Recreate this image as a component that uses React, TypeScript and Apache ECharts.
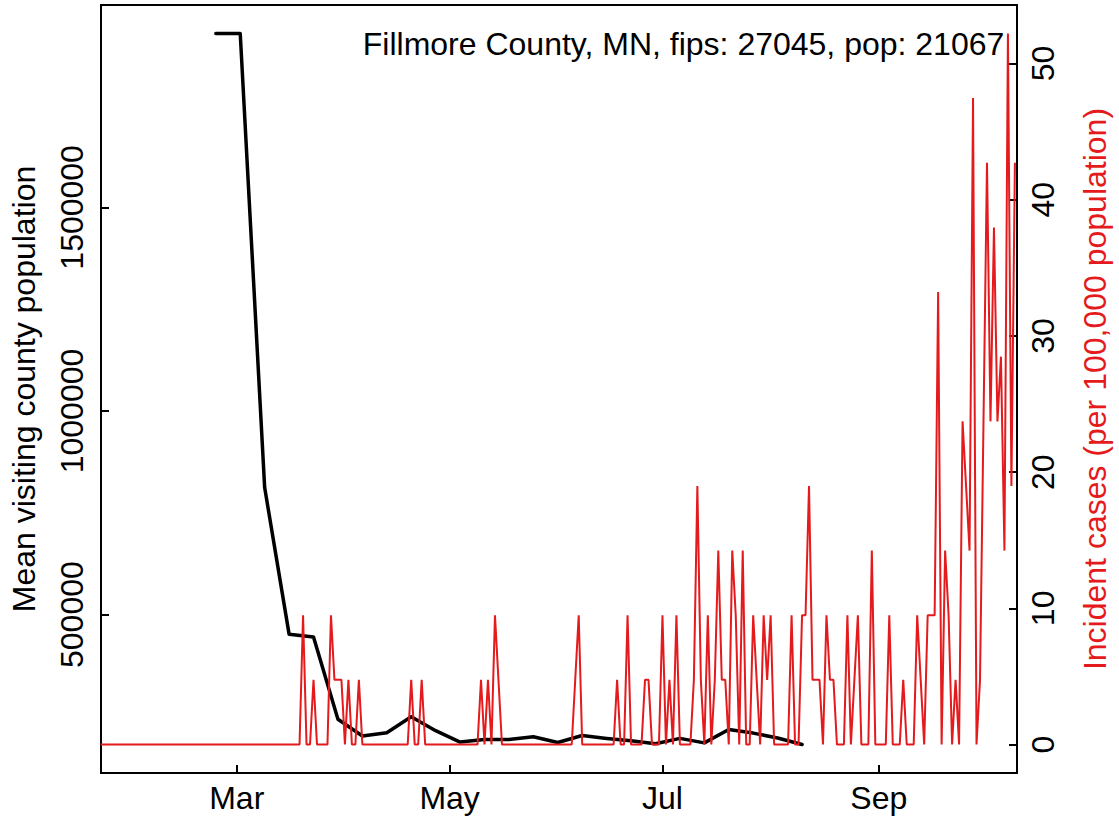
import React, { useEffect, useRef } from 'react';
import * as echarts from 'echarts';

const TITLE = 'Fillmore County, MN, fips: 27045, pop: 21067';
const LEFT_AXIS_NAME = 'Mean visiting county population';
const RIGHT_AXIS_NAME = 'Incident cases (per 100,000 population)';

// x positions are day-of-year in 2020 (0 = Jan 1)
const X_TICK_DAYS = [60, 121, 182, 244];
const X_TICK_LABELS = ['Mar', 'May', 'Jul', 'Sep'];
const LEFT_TICKS = [500000, 1000000, 1500000];
const RIGHT_TICKS = [0, 10, 20, 30, 40, 50];

// weekly mean visiting county population
const MOBILITY_DAYS = [54, 61, 68, 75, 82, 89, 96, 103, 110, 117, 124, 131, 138, 145, 152, 159, 166, 173, 180, 187, 194, 201, 208, 215, 222];
const MOBILITY = [
  1927000, 1927000, 812000, 452000, 445000, 243000, 202000, 210000, 249000, 215000,
  187000, 193000, 193000, 200000, 186000, 203000, 196000, 190000, 183000, 196000,
  185000, 218000, 209000, 197000, 181000,
];

// daily incident cases per 100,000, starting Jan 22, 2020 (day 21)
const INCIDENCE_START_DAY = 21;
const INC_JAN = [0, 0, 0, 0, 0, 0, 0, 0, 0, 0];
const INC_FEB = [0, 0, 0, 0, 0, 0, 0, 0, 0, 0, 0, 0, 0, 0, 0, 0, 0, 0, 0, 0, 0, 0, 0, 0, 0, 0, 0, 0, 0];
const INC_MAR = [0, 0, 0, 0, 0, 0, 0, 0, 0, 0, 0, 0, 0, 0, 0, 0, 0, 0, 0,
  9.49, 0, 0, 4.75, 0, 0, 0, 0, 9.49, 4.75, 4.75, 4.75];
const INC_APR = [0, 4.75, 0, 0, 4.75, 0, 0, 0, 0, 0, 0, 0, 0, 0, 0, 0, 0, 0, 0,
  4.75, 0, 0, 4.75, 0, 0, 0, 0, 0, 0, 0];
const INC_MAY = [0, 0, 0, 0, 0, 0, 0, 0, 0, 4.75, 0, 4.75, 0, 9.49, 4.75,
  0, 0, 0, 0, 0, 0, 0, 0, 0, 0, 0, 0, 0, 0, 0, 0];
const INC_JUN = [0, 0, 0, 0, 0, 4.75, 9.49, 0, 0, 0, 0, 0, 0, 0, 0, 0, 0,
  4.75, 0, 0, 9.49, 0, 0, 0, 0, 4.75, 4.75, 0, 0, 0];
const INC_JUL = [9.49, 0, 4.75, 0, 9.49, 0, 0, 0, 0, 4.75, 18.99, 4.75, 0, 9.49, 0,
  4.75, 14.24, 4.75, 4.75, 0, 14.24, 9.49, 0, 14.24, 0, 0, 9.49, 4.75, 0, 9.49, 4.75];
const INC_AUG = [9.49, 0, 0, 0, 0, 0, 9.49, 0, 0, 9.49, 9.49, 18.99, 4.75, 4.75, 4.75,
  0, 9.49, 4.75, 4.75, 0, 0, 0, 9.49, 0, 4.75, 9.49, 0, 0, 0, 14.24, 0];
const INC_SEP = [0, 0, 0, 9.49, 0, 0, 0, 4.75, 0, 0, 0, 9.49, 4.75, 0, 9.49,
  9.49, 9.49, 33.23, 0, 14.24, 9.49, 0, 4.75, 0, 23.73, 18.99, 14.24, 47.47, 0, 4.75];
const INC_OCT = [23.73, 42.72, 23.73, 37.97, 23.73, 28.48, 14.24, 52.21, 18.99, 42.72];

const INCIDENCE = [
  ...INC_JAN, ...INC_FEB, ...INC_MAR, ...INC_APR, ...INC_MAY,
  ...INC_JUN, ...INC_JUL, ...INC_AUG, ...INC_SEP, ...INC_OCT,
];

const FONT = 'Liberation Sans';
const FS = 32;
const RED = '#E41A1C';

export default function App() {
  const ref = useRef<HTMLDivElement>(null);

  useEffect(() => {
    if (!ref.current) return;
    const chart = echarts.init(ref.current, null, { renderer: 'svg' });
    const axisLine = { show: true, onZero: false, lineStyle: { color: '#000', width: 2 } };
    const option: any = {
      animation: false,
      backgroundColor: '#fff',
      textStyle: { fontFamily: FONT },
      grid: {
        left: 99, right: 99, top: 5, bottom: 49,
        show: true, borderColor: '#000', borderWidth: 2, backgroundColor: 'transparent',
      },
      xAxis: {
        type: 'value',
        min: 21.1,
        max: 283.6,
        axisLine,
        axisTick: { show: true, inside: true, length: 8, customValues: X_TICK_DAYS, lineStyle: { color: '#000', width: 2 } },
        axisLabel: {
          customValues: X_TICK_DAYS,
          formatter: (v: number) => {
            const i = X_TICK_DAYS.indexOf(v);
            return i >= 0 ? X_TICK_LABELS[i] : '';
          },
          fontSize: FS, fontFamily: FONT, color: '#000', margin: 9,
        },
        splitLine: { show: false },
      },
      yAxis: [
        {
          type: 'value',
          position: 'left',
          min: 111000,
          max: 1997000,
          name: LEFT_AXIS_NAME,
          nameLocation: 'middle',
          nameGap: 61,
          nameTextStyle: { fontSize: FS, fontFamily: FONT, color: '#000' },
          axisLine,
          axisTick: { show: true, inside: true, length: 8, customValues: LEFT_TICKS, lineStyle: { color: '#000', width: 2 } },
          axisLabel: {
            customValues: LEFT_TICKS, rotate: 90, margin: 13,
            formatter: (v: number) => String(v),
            fontSize: FS, fontFamily: FONT, color: '#000',
          },
          splitLine: { show: false },
        },
        {
          type: 'value',
          position: 'right',
          min: -2.088,
          max: 54.3,
          name: RIGHT_AXIS_NAME,
          nameLocation: 'middle',
          nameGap: 62,
          nameTextStyle: { fontSize: FS, fontFamily: FONT, color: RED },
          axisLine,
          axisTick: { show: true, inside: true, length: 8, customValues: RIGHT_TICKS, lineStyle: { color: '#000', width: 2 } },
          axisLabel: {
            customValues: RIGHT_TICKS, rotate: 90, margin: 10,
            formatter: (v: number) => String(v),
            fontSize: FS, fontFamily: FONT, color: '#000',
          },
          splitLine: { show: false },
        },
      ],
      graphic: [
        {
          type: 'text',
          x: 1004.3,
          y: 43.9,
          style: {
            text: TITLE, fontSize: FS, fontFamily: FONT, fill: '#000',
            align: 'right', verticalAlign: 'middle',
          },
        },
      ],
      series: [
        {
          name: 'Mean visiting county population',
          type: 'line',
          yAxisIndex: 0,
          data: MOBILITY.map((v, i) => [MOBILITY_DAYS[i], v]),
          showSymbol: false,
          symbol: 'none',
          lineStyle: { color: '#000', width: 3.5, cap: 'round', join: 'round' },
          itemStyle: { color: '#000' },
        },
        {
          name: 'Incident cases',
          type: 'line',
          yAxisIndex: 1,
          data: INCIDENCE.map((v, i) => [INCIDENCE_START_DAY + i, v]),
          showSymbol: false,
          symbol: 'none',
          lineStyle: { color: RED, width: 2 },
          itemStyle: { color: RED },
        },
      ],
    };
    chart.setOption(option);
    return () => chart.dispose();
  }, []);

  return (
    <div
      ref={ref}
      style={{ position: 'fixed', left: 0, top: 0, width: 1119, height: 822, background: '#fff' }}
    />
  );
}
